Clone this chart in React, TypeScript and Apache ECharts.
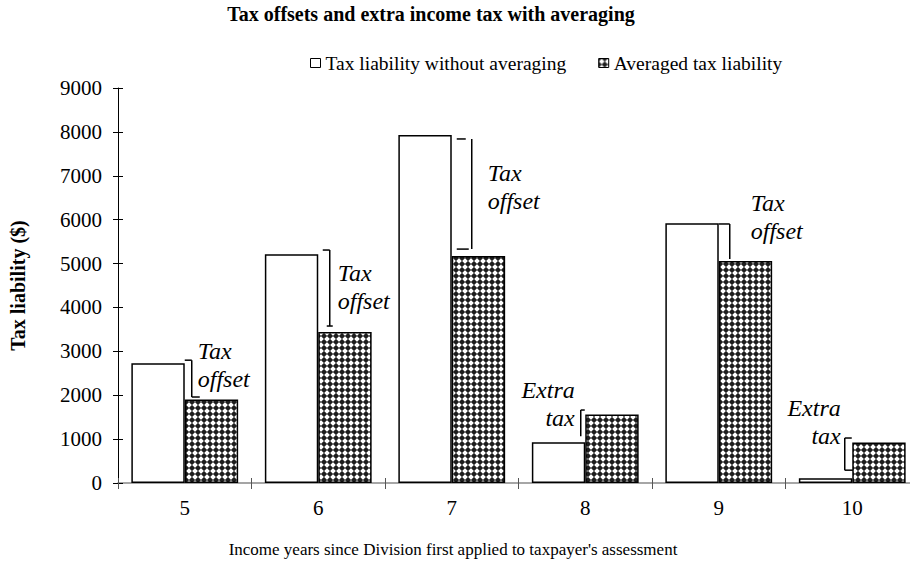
import React, { useEffect, useRef } from 'react';
import * as echarts from 'echarts';

// ---------- data ----------
const TITLE = 'Tax offsets and extra income tax with averaging';
const X_NAME = "Income years since Division first applied to taxpayer's assessment";
const Y_NAME = 'Tax liability ($)';
const categories = ['5', '6', '7', '8', '9', '10'];
const seriesNames = ['Tax liability without averaging', 'Averaged tax liability'];
const withoutAveraging = [2730, 5210, 7930, 930, 5920, 110];
const averaged = [1900, 3440, 5170, 1560, 5060, 920];
const yMin = 0;
const yMax = 9000;
const yStep = 1000;
const offsetLabel = ['Tax', 'offset'];
const extraLabel = ['Extra', 'tax'];

// ---------- hand-placed annotation layout (pixel offsets) ----------
const ANNOT = [
  { dx: 7, top: -3, bot: -2.6, tt: [-7, 0], bt: [0, 8], tx: 13, ty: -12, align: 'left' },
  { dx: 11.5, top: -4.3, bot: -6, tt: [-7, 0], bt: [-3, 3], tx: 19.5, ty: 19, align: 'left' },
  { dx: 20, top: 4, bot: -7, tt: [-15, -6], bt: [-15, -3], tx: 36, ty: 38, align: 'left' },
  { dx: -4.5, top: -4.5, bot: -6, tt: [0, 4], bt: null, tx: -10.5, ty: -24.5, align: 'right' },
  { dx: 11, top: 0.8, bot: -2, tt: [-11, 0], bt: null, tx: 32, ty: -20, align: 'left' },
  { dx: -7.5, top: -4.6, bot: -8, tt: [0, 7], bt: [0, 10], tx: -11.5, ty: -34.6, align: 'right' },
];

const SERIF = "'Liberation Serif', 'Times New Roman', serif";

function makePattern() {
  const size = 6;
  const c = document.createElement('canvas');
  c.width = size;
  c.height = size;
  const ctx = c.getContext('2d')!;
  const img = ctx.createImageData(size, size);
  for (let y = 0; y < size; y++) {
    for (let x = 0; x < size; x++) {
      const dx = Math.abs(x - 2.5);
      const dy = Math.abs(y - 2.5);
      let v = 30;
      if ((dx <= 0.5 && dy <= 1.5) || (dy <= 0.5 && dx <= 1.5)) v = 255;
      else if (dx + dy <= 3) v = 110;
      const k = (y * size + x) * 4;
      img.data[k] = v;
      img.data[k + 1] = v;
      img.data[k + 2] = v;
      img.data[k + 3] = 255;
    }
  }
  ctx.putImageData(img, 0, 0);
  return { image: c.toDataURL(), repeat: 'repeat', imageWidth: size, imageHeight: size };
}

export default function App() {
  const ref = useRef<HTMLDivElement>(null);

  useEffect(() => {
    if (!ref.current) return;
    const chart = echarts.init(ref.current, undefined, { renderer: 'svg' });
    const pattern = makePattern();

    const annotData = categories.map((_, i) => [
      i,
      Math.max(withoutAveraging[i], averaged[i]),
      Math.min(withoutAveraging[i], averaged[i]),
    ]);

    const option: any = {
      animation: false,
      backgroundColor: '#fff',
      textStyle: { fontFamily: SERIF, color: '#000' },
      grid: { left: 118, right: -9, top: 88, bottom: 81, containLabel: false, outerBoundsMode: 'none' },
      legend: {
        data: seriesNames,
        left: 310,
        top: 53,
        padding: 0,
        itemWidth: 10,
        itemHeight: 9,
        itemGap: 32,
        icon: 'rect',
        selectedMode: false,
        itemStyle: { borderColor: '#000', borderWidth: 1 },
        textStyle: { fontFamily: SERIF, fontSize: 19.5, color: '#000', lineHeight: 20, padding: [0, 0, 0, 0] },
      },
      xAxis: [
        {
          type: 'category',
          data: categories,
          position: 'bottom',
          axisLine: { lineStyle: { color: '#888', width: 1.5 } },
          axisTick: { show: true, length: 6, lineStyle: { color: '#555', width: 1 } },
          axisLabel: { fontFamily: SERIF, fontSize: 21, color: '#000', margin: 14 },
          splitLine: { show: false },
        },
        {
          type: 'category',
          data: categories,
          position: 'bottom',
          axisLine: { show: false },
          axisTick: { show: true, inside: true, length: 5, lineStyle: { color: '#555', width: 1 } },
          axisLabel: { show: false },
          splitLine: { show: false },
        },
      ],
      yAxis: [
        {
          type: 'value',
          min: yMin,
          max: yMax,
          interval: yStep,
          name: Y_NAME,
          nameLocation: 'middle',
          nameGap: 90,
          nameRotate: 90,
          nameTextStyle: { fontFamily: SERIF, fontSize: 20, fontWeight: 'bold', color: '#000' },
          axisLine: { show: true, lineStyle: { color: '#000', width: 1 } },
          axisTick: { show: true, length: 5, lineStyle: { color: '#000', width: 1 } },
          axisLabel: {
            fontFamily: SERIF,
            fontSize: 21,
            color: '#000',
            margin: 16,
            formatter: (v: number) => String(v),
          },
          splitLine: { show: false },
        },
        {
          type: 'value',
          min: yMin,
          max: yMax,
          interval: yStep,
          position: 'left',
          axisLine: { show: false },
          axisTick: { show: true, inside: true, length: 5, lineStyle: { color: '#000', width: 1 } },
          axisLabel: { show: false },
          splitLine: { show: false },
        },
      ],
      graphic: [
        {
          type: 'text',
          x: 431,
          y: 14,
          style: {
            text: TITLE,
            font: `bold 20px ${SERIF}`,
            fill: '#000',
            textAlign: 'center',
            textVerticalAlign: 'middle',
            align: 'center',
            verticalAlign: 'middle',
          },
        },
        {
          type: 'text',
          x: 453,
          y: 549,
          style: {
            text: X_NAME,
            font: `17px ${SERIF}`,
            fill: '#000',
            textAlign: 'center',
            textVerticalAlign: 'middle',
            align: 'center',
            verticalAlign: 'middle',
          },
        },
      ],
      series: [
        {
          name: seriesNames[0],
          type: 'bar',
          data: withoutAveraging,
          barGap: '0%',
          barCategoryGap: '20%',
          itemStyle: { color: '#fff', borderColor: '#000', borderWidth: 1.5 },
        },
        {
          name: seriesNames[1],
          type: 'bar',
          data: averaged,
          barGap: '0%',
          barCategoryGap: '20%',
          itemStyle: { color: pattern, borderColor: '#000', borderWidth: 1.5 },
        },
        {
          name: 'annotations',
          type: 'custom',
          data: annotData,
          encode: { x: 0, y: [1, 2] },
          clip: false,
          silent: true,
          renderItem: (params: any, api: any) => {
            const i = api.value(0);
            const hi = api.value(1);
            const lo = api.value(2);
            const pHi = api.coord([i, hi]);
            const pLo = api.coord([i, lo]);
            const L = ANNOT[params.dataIndex];
            const x = pHi[0] + L.dx;
            const y1 = pHi[1] + L.top;
            const y2 = pLo[1] + L.bot;
            const ls = { stroke: '#000', lineWidth: 1.5 };
            const children: any[] = [
              { type: 'line', shape: { x1: x, y1, x2: x, y2 }, style: ls },
              { type: 'line', shape: { x1: x + L.tt[0], y1, x2: x + L.tt[1], y2: y1 }, style: ls },
            ];
            if (L.bt) {
              children.push({ type: 'line', shape: { x1: x + L.bt[0], y1: y2, x2: x + L.bt[1], y2 }, style: ls });
            }
            const lines = withoutAveraging[i] > averaged[i] ? offsetLabel : extraLabel;
            lines.forEach((t, k) => {
              children.push({
                type: 'text',
                x: pHi[0] + L.tx,
                y: pHi[1] + L.ty + k * 28,
                style: {
                  text: t,
                  font: `italic 24px ${SERIF}`,
                  fill: '#000',
                  textAlign: L.align,
                  textVerticalAlign: 'middle',
                  align: L.align,
                  verticalAlign: 'middle',
                },
              });
            });
            return { type: 'group', children };
          },
        },
      ],
    };

    chart.setOption(option);
    return () => chart.dispose();
  }, []);

  return (
    <div
      ref={ref}
      style={{ position: 'fixed', left: 0, top: 0, width: 910, height: 564, background: '#fff' }}
    />
  );
}
